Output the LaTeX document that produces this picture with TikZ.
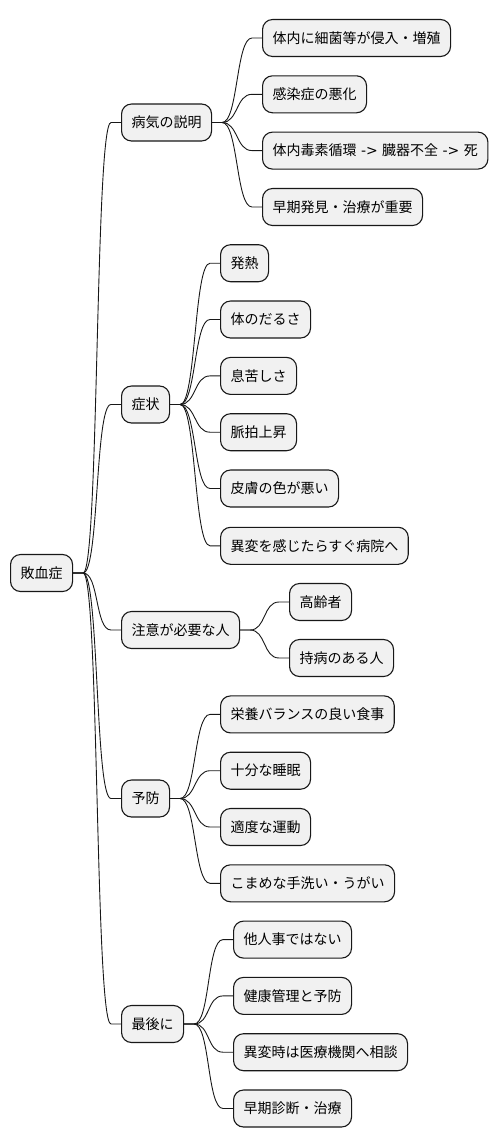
\documentclass[tikz,border=0pt]{standalone}
\usepackage{fontspec}
\setmainfont{Noto Sans CJK JP}
\newfontfamily\latinfont{DejaVu Sans}
\usetikzlibrary{calc}

\definecolor{boxfill}{HTML}{F1F1F1}
\definecolor{boxline}{HTML}{181818}

\newcommand{\branch}[2]{%
  \draw[link] (#1.east) -- ++(10,0) .. controls +(16,0) and +(-16,0) .. ($(#2.west)+(-10,0)$) -- (#2.west);}
\newcommand{\arrowtext}{{\latinfont\ ->\ }}

\begin{document}
\begin{tikzpicture}[
    x=1pt, y=-1pt,
    every node/.style={font=\fontsize{14}{17}\selectfont},
    topic/.style={rectangle, draw=boxline, fill=boxfill, line width=1.1pt, rounded corners=10pt,
                  minimum height=37pt, inner xsep=10pt, anchor=west},
    link/.style={draw=boxline, line width=0.9pt}
]
\useasboundingbox (0,0) rectangle (498,1146);

% ============ ROOT ============
\node[topic] (root) at (10, 573) {敗血症};

% ============ LEVEL 1 ============
\node[topic] (expl) at (121, 122.5) {病気の説明};
\node[topic] (symp) at (121, 404.5) {症状};
\node[topic] (risk) at (121, 630) {注意が必要な人};
\node[topic] (prev) at (121, 798.5) {予防};
\node[topic] (last) at (121, 1024) {最後に};

% ============ 病気の説明 ============
\node[topic] (expl1) at (262, 38) {体内に細菌等が侵入・増殖};
\node[topic] (expl2) at (262, 94.3) {感染症の悪化};
\node[topic] (expl3) at (262, 150.6) {体内毒素循環\arrowtext 臓器不全\arrowtext 死};
\node[topic] (expl4) at (262, 207) {早期発見・治療が重要};

% ============ 症状 ============
\node[topic] (symp1) at (220, 263.2) {発熱};
\node[topic] (symp2) at (220, 319.5) {体のだるさ};
\node[topic] (symp3) at (220, 375.9) {息苦しさ};
\node[topic] (symp4) at (220, 432.2) {脈拍上昇};
\node[topic] (symp5) at (220, 488.5) {皮膚の色が悪い};
\node[topic] (symp6) at (220, 545.8) {異変を感じたらすぐ病院へ};

% ============ 注意が必要な人 ============
\node[topic] (risk1) at (289, 602) {高齢者};
\node[topic] (risk2) at (289, 658) {持病のある人};

% ============ 予防 ============
\node[topic] (prev1) at (220, 714.4) {栄養バランスの良い食事};
\node[topic] (prev2) at (220, 770.7) {十分な睡眠};
\node[topic] (prev3) at (220, 827) {適度な運動};
\node[topic] (prev4) at (220, 883.3) {こまめな手洗い・うがい};

% ============ 最後に ============
\node[topic] (last1) at (233, 939.6) {他人事ではない};
\node[topic] (last2) at (233, 995.9) {健康管理と予防};
\node[topic] (last3) at (233, 1052.2) {異変時は医療機関へ相談};
\node[topic] (last4) at (233, 1108.5) {早期診断・治療};

% Connectors
\branch{root}{expl}
\branch{root}{symp}
\branch{root}{risk}
\branch{root}{prev}
\branch{root}{last}

\branch{expl}{expl1}
\branch{expl}{expl2}
\branch{expl}{expl3}
\branch{expl}{expl4}

\branch{symp}{symp1}
\branch{symp}{symp2}
\branch{symp}{symp3}
\branch{symp}{symp4}
\branch{symp}{symp5}
\branch{symp}{symp6}

\branch{risk}{risk1}
\branch{risk}{risk2}

\branch{prev}{prev1}
\branch{prev}{prev2}
\branch{prev}{prev3}
\branch{prev}{prev4}

\branch{last}{last1}
\branch{last}{last2}
\branch{last}{last3}
\branch{last}{last4}

\end{tikzpicture}
\end{document}
